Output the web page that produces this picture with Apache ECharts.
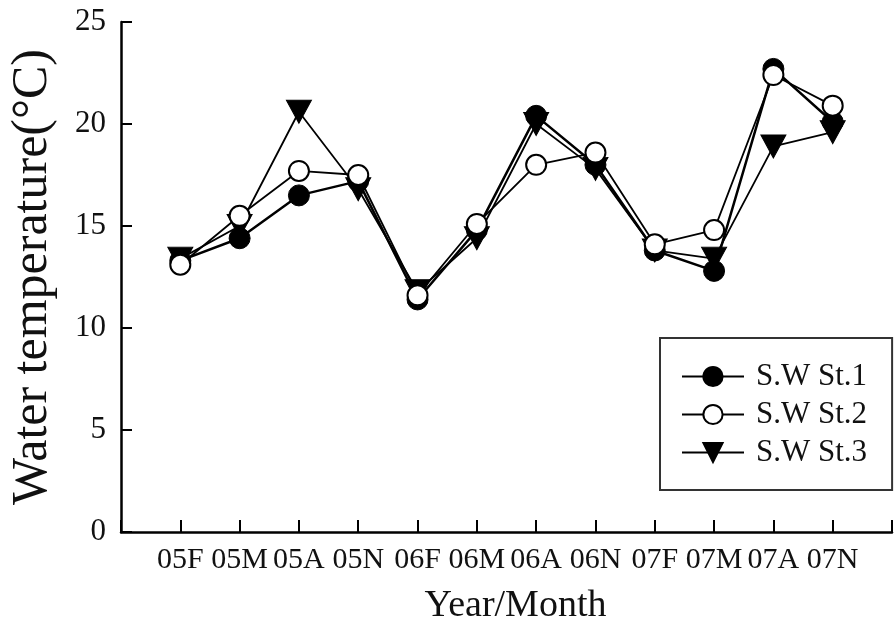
<!DOCTYPE html>
<html>
<head>
<meta charset="utf-8">
<script src="https://cdn.jsdelivr.net/npm/echarts@6/dist/echarts.min.js"></script>
<style>
  html, body { margin: 0; padding: 0; background: #fff; }
  #chart { width: 895px; height: 630px; }
</style>
</head>
<body>
<div id="chart"></div>
<script>
// Sampling periods (year + month initial)
const months = ['05F', '05M', '05A', '05N', '06F', '06M', '06A', '06N', '07F', '07M', '07A', '07N'];

// Water temperature (°C) at each station
const st1 = [13.3, 14.4, 16.5, 17.2, 11.4, 14.8, 20.4, 18.0, 13.8, 12.8, 22.7, 20.1];
const st2 = [13.1, 15.5, 17.7, 17.5, 11.6, 15.1, 18.0, 18.6, 14.1, 14.8, 22.4, 20.9];
const st3 = [13.4, 15.0, 20.6, 16.8, 11.8, 14.4, 20.0, 17.8, 13.8, 13.4, 18.9, 19.6];

const seriesNames = ['S.W St.1', 'S.W St.2', 'S.W St.3'];

const FONT = 'Liberation Serif';

// periods sit at positions 1..12 on a 0..13 axis
const toPoints = vals => vals.map((v, i) => [i + 1, v]);

const chart = echarts.init(document.getElementById('chart'), null, { renderer: 'canvas' });

chart.setOption({
  backgroundColor: '#fff',
  animation: false,
  grid: { left: 118, right: -11, top: 22, bottom: 96, containLabel: false },
  legend: {
    orient: 'vertical',
    left: 660,
    top: 338,
    padding: [23, 25, 22, 21],
    itemWidth: 62,
    itemHeight: 24,
    itemGap: 7,
    borderColor: '#333',
    borderWidth: 2,
    backgroundColor: '#fff',
    textStyle: { fontFamily: FONT, fontSize: 31, color: '#111', padding: [0, 0, 0, 7] },
    data: seriesNames
  },
  xAxis: {
    type: 'value',
    min: 0,
    max: 13,
    interval: 1,
    name: 'Year/Month',
    nameLocation: 'middle',
    nameGap: 55,
    nameTextStyle: { fontFamily: FONT, fontSize: 38, color: '#111', padding: [0, 0, 0, 18] },
    axisLine: { lineStyle: { color: '#000', width: 2.5 } },
    axisTick: { inside: true, length: 12, lineStyle: { color: '#000', width: 2 } },
    splitLine: { show: false },
    axisLabel: {
      fontFamily: FONT, fontSize: 30, color: '#111', margin: 13,
      formatter: v => (v >= 1 && v <= months.length ? months[v - 1] : '')
    }
  },
  yAxis: {
    type: 'value',
    min: 0,
    max: 25,
    interval: 5,
    name: 'Water temperature(°C)',
    nameLocation: 'middle',
    nameGap: 63,
    nameTextStyle: { fontFamily: FONT, fontSize: 50, color: '#111' },
    axisLine: { show: true, lineStyle: { color: '#000', width: 2.5 } },
    axisTick: { show: true, inside: true, length: 11, lineStyle: { color: '#000', width: 2 } },
    splitLine: { show: false },
    axisLabel: { fontFamily: FONT, fontSize: 31, color: '#111', margin: 15 }
  },
  series: [
    {
      name: seriesNames[0],
      type: 'line',
      data: toPoints(st1),
      symbol: 'circle',
      symbolSize: 21,
      z: 3,
      lineStyle: { color: '#000', width: 2.5 },
      itemStyle: { color: '#000', borderColor: '#000', borderWidth: 1 }
    },
    {
      name: seriesNames[1],
      type: 'line',
      data: toPoints(st2),
      symbol: 'circle',
      symbolSize: 20,
      z: 4,
      lineStyle: { color: '#000', width: 1.8 },
      itemStyle: { color: '#fff', borderColor: '#000', borderWidth: 2 }
    },
    {
      name: seriesNames[2],
      type: 'line',
      data: toPoints(st3),
      symbol: 'triangle',
      symbolRotate: 180,
      symbolSize: [25, 23],
      z: 2,
      lineStyle: { color: '#000', width: 1.8 },
      itemStyle: { color: '#000', borderColor: '#000', borderWidth: 1 }
    }
  ]
});
</script>
</body>
</html>
